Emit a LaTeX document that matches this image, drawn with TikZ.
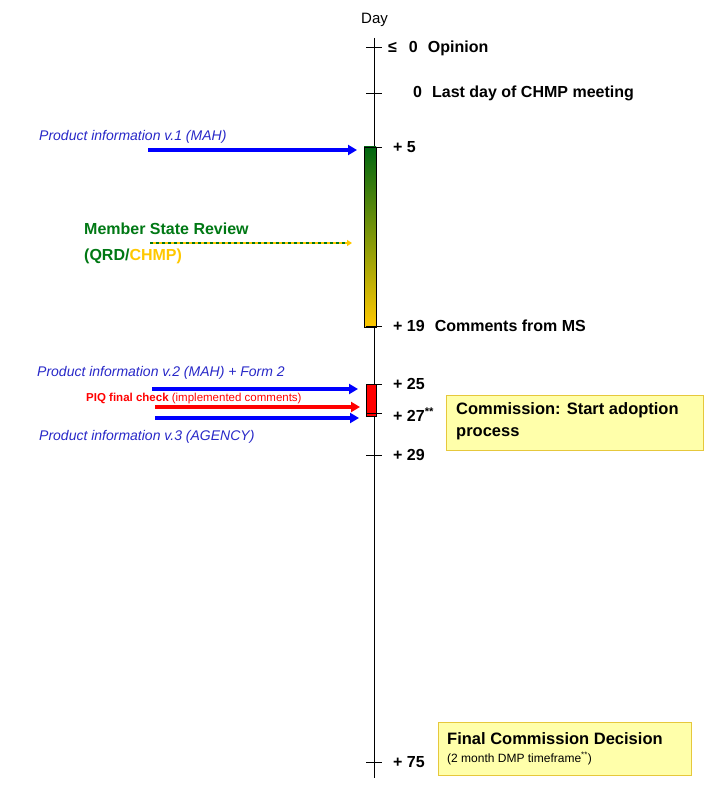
\documentclass[tikz,border=0pt]{standalone}
\usepackage{fontspec}
\setmainfont{Liberation Sans}
\usetikzlibrary{arrows.meta,calc}
\definecolor{tblue}{RGB}{40,40,200}
\definecolor{ablue}{RGB}{0,0,255}
\definecolor{mgreen}{RGB}{0,120,20}
\definecolor{myellow}{RGB}{255,200,0}
\definecolor{boxfill}{RGB}{255,255,170}
\definecolor{boxline}{RGB}{230,200,60}
\begin{document}
\begin{tikzpicture}[x=1pt,y=-1pt,
  tick/.style={line width=0.8pt},
  daylab/.style={anchor=west,font=\bfseries\fontsize{16}{18}\selectfont,inner sep=0},
  pitext/.style={anchor=west,font=\itshape\fontsize{14}{16}\selectfont,text=tblue,inner sep=0},
  arr/.style={line width=3.5pt,-{Triangle[length=9pt,width=10pt]}}]
\useasboundingbox (0,0) rectangle (714,786);
\node[anchor=west,inner sep=0,font=\fontsize{15}{17}\selectfont] (day) at (361,20) {Day};
\coordinate (atop) at (374,38);
\coordinate (abot) at (374,778);
\draw[line width=0.8pt] (atop) -- (abot);
\shade[top color=mgreen!85!black,bottom color=myellow,draw=black,line width=0.6pt] (364,147) rectangle (376,327);
\fill[red,draw=black,line width=0.6pt] (366,384) rectangle (376,416);
\foreach \y in {47,93,147,326,384,413,455,762}{\draw[tick] (366,\y) -- (382,\y);}
\node[daylab] (d0) at (388,48) {≤\hspace{12pt}0\hspace{10pt}Opinion};
\node[daylab] (d1) at (413,93) {0\hspace{10pt}Last day of CHMP meeting};
\node[daylab] (d5) at (393,147) {+ 5};
\node[daylab] (d19) at (393,326) {+ 19\hspace{10pt}Comments from MS};
\node[daylab] (d25) at (393,384) {+ 25};
\node[daylab] (d27) at (393,415) {+ 27\textsuperscript{**}};
\node[daylab] (d29) at (393,455) {+ 29};
\node[daylab] (d75) at (393,762) {+ 75};
\node[pitext] (p1) at (39,137) {Product information v.1 (MAH)};
\coordinate (p1s) at (148,150); \coordinate (p1e) at (357,150);
\draw[arr,ablue] (p1s) -- (p1e);
\node[anchor=west,inner sep=0,font=\bfseries\fontsize{16}{18}\selectfont,text=mgreen] (msr) at (84,229) {Member State Review};
\node[anchor=west,inner sep=0,font=\bfseries\fontsize{16}{18}\selectfont] (qrd) at (84,256) {\textcolor{mgreen}{(QRD/}\textcolor{myellow}{CHMP}\textcolor{myellow}{)}};
\coordinate (ms1) at (150,243); \coordinate (ms2) at (352,243);
\draw[line width=2.5pt,myellow,-{Triangle[length=5pt,width=6pt]}] (ms1) -- (ms2);
\draw[line width=2.5pt,mgreen,dash pattern=on 3pt off 3pt] (ms1) -- ($(ms2)+(-5,0)$);
\node[pitext] (p2) at (37,373) {Product information v.2 (MAH) + Form 2};
\coordinate (p2s) at (152,389); \coordinate (p2e) at (358,389);
\draw[arr,ablue] (p2s) -- (p2e);
\node[anchor=west,inner sep=0,font=\fontsize{11.5}{13}\selectfont,text=red] (piq) at (86,399) {\textbf{PIQ final check} (implemented comments)};
\coordinate (p3s) at (155,407); \coordinate (p3e) at (360,407);
\draw[arr,red] (p3s) -- (p3e);
\coordinate (p4s) at (155,418); \coordinate (p4e) at (359,418);
\draw[arr,ablue] (p4s) -- (p4e);
\node[pitext] (p3) at (39,437) {Product information v.3 (AGENCY)};
\draw[draw=boxline,fill=boxfill] (446,395) rectangle (703,450);
\node[anchor=north west,align=left,inner sep=0,font=\bfseries\fontsize{16.5}{22}\selectfont] (c1) at (456,402) {Commission: Start adoption\\process};
\draw[draw=boxline,fill=boxfill] (438,722) rectangle (691,775);
\node[anchor=north west,align=left,inner sep=0,font=\bfseries\fontsize{16.5}{20}\selectfont] (c2) at (447,732) {Final Commission Decision\\[-2pt]{\mdseries\fontsize{12}{14}\selectfont (2 month DMP timeframe\textsuperscript{**})}};
\end{tikzpicture}
\end{document}
